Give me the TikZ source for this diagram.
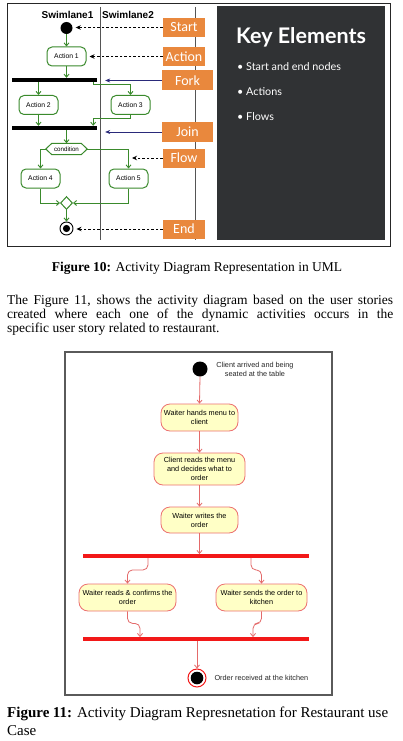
\documentclass[tikz,border=0pt]{standalone}
\usepackage{fontspec}
\setmainfont{Liberation Serif}
\newfontfamily\arialf{Liberation Sans}
\newfontfamily\calf{Carlito}
\newfontfamily\latof{Lato}
\usetikzlibrary{arrows.meta,shapes.geometric,calc}
\definecolor{umlgreen}{HTML}{3A8A2C}
\definecolor{orangebox}{HTML}{E9883D}
\definecolor{darkpanel}{HTML}{303234}
\definecolor{navyarrow}{HTML}{2A2A7A}
\definecolor{pinkline}{HTML}{E46A6A}
\definecolor{nodefill}{HTML}{FFFFC6}
\definecolor{nodeborder}{HTML}{EC7070}
\definecolor{barred}{HTML}{F21818}
\definecolor{lanegrey}{HTML}{555555}
\definecolor{framegrey}{HTML}{5A5A5A}
\tikzset{
  actbox/.style={draw=umlgreen, line width=1pt, rounded corners=5pt, fill=white,
    minimum width=39pt, minimum height=19pt, inner sep=0pt,
    font=\arialf\fontsize{6.8}{8}\selectfont},
  labelbox/.style={fill=orangebox, text=white, inner sep=0pt,
    minimum width=42pt, minimum height=19pt, font=\calf\fontsize{14}{15}\selectfont},
  widelabel/.style={labelbox, minimum width=51pt, minimum height=20pt},
  garrow/.style={draw=umlgreen, line width=0.9pt, -{Straight Barb[length=3pt,width=5pt]}},
  dasharrow/.style={draw=black, line width=1pt, dash pattern=on 2.5pt off 2pt,
    -{Stealth[length=5pt,width=4.5pt]}, shorten >=3pt},
  navyarr/.style={draw=navyarrow, line width=0.6pt, -{Stealth[length=5pt,width=4pt]}, shorten >=8pt},
  blackbar/.style={fill=black, inner sep=0pt, minimum width=85pt, minimum height=4pt},
  redbar/.style={fill=barred, inner sep=0pt, minimum width=226pt, minimum height=3.5pt},
  usenode/.style={draw=nodeborder, fill=nodefill, line width=0.8pt, rounded corners=9pt,
    inner sep=0pt, align=center, font=\arialf\fontsize{7.3}{9}\selectfont},
  rarrow/.style={draw=pinkline, line width=0.8pt, -{Straight Barb[length=3pt,width=5pt]}},
  keytext/.style={anchor=west, text=white, font=\latof\fontsize{10.8}{12}\selectfont},
  bodyline/.style={anchor=west, inner sep=0pt, font=\fontsize{13.5}{15}\selectfont},
  capline/.style={anchor=west, inner sep=0pt, font=\fontsize{15}{17}\selectfont},
}
\begin{document}
\begin{tikzpicture}[x=1pt,y=-1pt]
\useasboundingbox[fill=white] (0,0) rectangle (403,741);
% ---------------- Figure 10 ----------------
\draw[line width=0.8pt, black!85] (7,3) rectangle (390,246);
\fill[darkpanel] (217,6) rectangle (385,240);
\draw[lanegrey, line width=1pt] (100,7) -- (100,240);
\draw[lanegrey, line width=1pt] (195,7) -- (195,240);
\node[font=\arialf\bfseries\fontsize{10}{11}\selectfont] (sw1) at (67.5,15) {Swimlane1};
\node[font=\arialf\bfseries\fontsize{10}{11}\selectfont] (sw2) at (128,15) {Swimlane2};
% labels
\node[labelbox] (lstart) at (184,27.5) {Start};
\node[labelbox] (laction) at (184,56.5) {Action};
\node[widelabel] (lfork) at (187.5,80.5) {Fork};
\node[widelabel] (ljoin) at (187.5,132) {Join};
\node[labelbox] (lflow) at (184,158) {Flow};
\node[labelbox] (lend) at (184,229) {End};
% nodes
\node[circle, fill=black, minimum size=12pt, inner sep=0pt] (st) at (66.5,28) {};
\node[actbox] (a1) at (66.5,56.5) {Action 1};
\node[blackbar] (fork) at (54.5,80) {};
\node[actbox] (a2) at (38.5,105) {Action 2};
\node[actbox] (a3) at (130.5,105) {Action 3};
\node[blackbar] (join) at (54.5,128) {};
\node[minimum width=41pt, minimum height=11pt, inner sep=0pt] (cond) at (66.5,149) {};
\draw[umlgreen, line width=1pt, fill=white] (cond.west) -- ([xshift=6pt]cond.north west)
  -- ([xshift=-6pt]cond.north east) -- (cond.east) -- ([xshift=-6pt]cond.south east)
  -- ([xshift=6pt]cond.south west) -- cycle;
\node[font=\arialf\fontsize{6.2}{7}\selectfont] at (cond) {condition};
\node[actbox] (a4) at (40.5,178.5) {Action 4};
\node[actbox] (a5) at (128.5,178.5) {Action 5};
\node[diamond, draw=umlgreen, line width=1pt, fill=white, inner sep=0pt,
  minimum width=12pt, minimum height=13pt] (merge) at (66.5,203) {};
\node[circle, draw=black, line width=0.9pt, fill=white, minimum size=13pt, inner sep=0pt] (endc) at (66.5,228.5) {};
\fill[black] (endc.center) circle[radius=3.6pt];
\coordinate (flowtip) at (132,158);
% connectors
\draw[garrow] (st.south) -- (a1.north);
\draw[garrow] (a1.south) -- (a1.south |- fork.north);
\draw[garrow] (a2.north |- fork.south) -- (a2.north);
\draw[garrow] ([xshift=-4pt]fork.south east) -- ++(0,2.5) -| (a3.north);
\draw[garrow] (a2.south) -- (a2.south |- join.north);
\draw[garrow] (a3.south) -- ++(0,3) -| ([xshift=-4pt]join.north east);
\draw[garrow] (cond.north |- join.south) -- (cond.north);
\draw[garrow] (cond.west) -| (a4.north);
\draw[garrow] (cond.east) -| (a5.north);
\draw[garrow] (a4.south) |- (merge.west);
\draw[garrow] (a5.south) |- (merge.east);
\draw[garrow] (merge.south) -- (endc.north);
\draw[dasharrow] (lstart.west) -- (lstart.west -| st.east);
\draw[dasharrow] (laction.west) -- (laction.west -| a1.east);
\draw[navyarr] (lfork.west) -- (lfork.west -| fork.east);
\draw[navyarr] (ljoin.west) -- (ljoin.west -| join.east);
\draw[dasharrow, shorten >=0pt] (lflow.west) -- (lflow.west -| flowtip);
\draw[dasharrow] (lend.west) -- (lend.west -| endc.east);
% key elements panel
\node[anchor=west, inner sep=0pt, text=white, font=\latof\bfseries\fontsize{21.5}{23}\selectfont] (kt) at (236,37) {Key Elements};
\node[keytext, inner sep=0pt] (k1) at (237,67) {\textbullet\ Start and end nodes};
\node[keytext, inner sep=0pt] (k2) at (237,92) {\textbullet\ Actions};
\node[keytext, inner sep=0pt] (k3) at (237,117) {\textbullet\ Flows};
% ---------------- captions and text ----------------
\node[font=\fontsize{13.5}{15}\selectfont] (cap10) at (197,268) {\textbf{Figure 10:} Activity Diagram Representation in UML};
\node[bodyline] (p1) at (7,301) {\makebox[386pt][s]{The Figure 11, shows the activity diagram based on the user stories}};
\node[bodyline] (p2) at (7,315) {\makebox[386pt][s]{created where each one of the dynamic activities occurs in the}};
\node[bodyline] (p3) at (7,329) {specific user story related to restaurant.};
% ---------------- Figure 11 ----------------
\draw[framegrey, line width=1.2pt] (65,352) rectangle (332,695);
\node[circle, fill=black, minimum size=15pt, inner sep=0pt] (s2) at (200,369) {};
\node[align=center, font=\arialf\fontsize{7.3}{9}\selectfont, text=black!85] (s2l) at (255,369.5) {Client arrived and being\\seated at the table};
\node[usenode, minimum width=77pt, minimum height=27pt] (n1) at (199.5,417.5) {Waiter hands menu to\\client};
\node[usenode, minimum width=91pt, minimum height=32pt] (n2) at (199.5,469) {Client reads the menu\\and decides what to\\order};
\node[usenode, minimum width=77pt, minimum height=26pt] (n3) at (199.5,520) {Waiter writes the\\order};
\node[redbar] (fork2) at (196,556) {};
\node[usenode, minimum width=97pt, minimum height=27pt] (n4) at (127.5,597.5) {Waiter reads \& confirms the\\order};
\node[usenode, minimum width=91pt, minimum height=27pt] (n5) at (261.5,597.5) {Waiter sends the order to\\kitchen};
\node[redbar] (join2) at (196,639) {};
\node[circle, draw=barred, line width=1pt, fill=white, minimum size=18pt, inner sep=0pt] (e2) at (197,678) {};
\fill[black] (e2.center) circle[radius=6.3pt];
\node[anchor=west, font=\arialf\fontsize{7.3}{9}\selectfont, text=black!85] (e2l) at (211,678) {Order received at the kitchen};
\draw[rarrow] (s2.south) -- (n1.north);
\draw[rarrow] (n1.south) -- (n2.north);
\draw[rarrow] (n2.south) -- (n3.north);
\draw[rarrow] (n3.south) -- (n3.south |- fork2.north);
\draw[rarrow, rounded corners=5pt] ([xshift=-48pt]fork2.south) -- ++(0,12) -| (n4.north);
\draw[rarrow, rounded corners=5pt] ([xshift=55pt]fork2.south) -- ++(0,12) -| (n5.north);
\draw[rarrow, rounded corners=5pt] (n4.south) -- ++(0,12) -| ([xshift=-56pt]join2.north);
\draw[rarrow, rounded corners=5pt] (n5.south) -- ++(0,12) -| ([xshift=57pt]join2.north);
\draw[rarrow] (e2.north |- join2.south) -- (e2.north);
% caption 11
\node[capline] (c11a) at (7,714) {\makebox[381pt][s]{\textbf{Figure 11:} Activity Diagram Represnetation for Restaurant use}};
\node[capline] (c11b) at (7,731) {Case};
\end{tikzpicture}
\end{document}
